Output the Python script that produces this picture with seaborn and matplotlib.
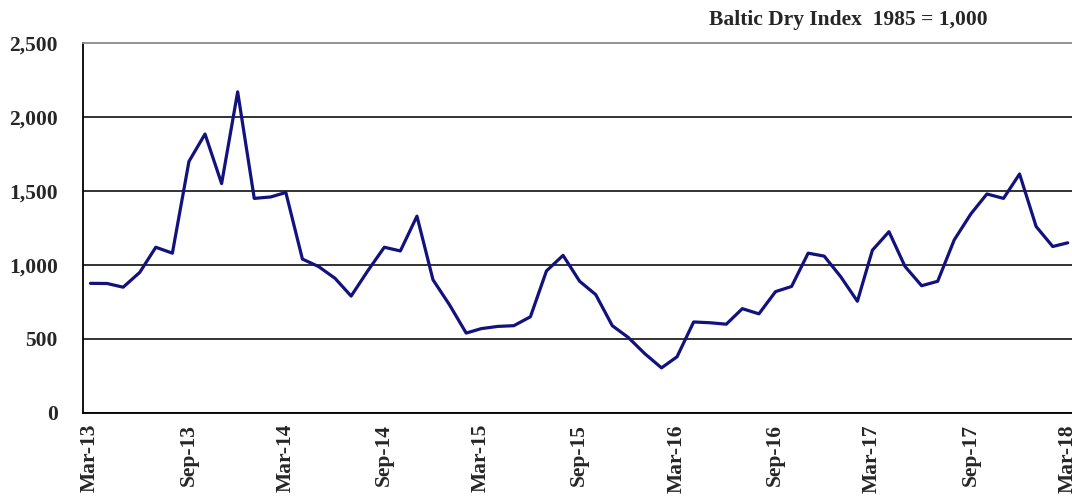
import pandas as pd
import matplotlib
matplotlib.use("Agg")
import matplotlib.pyplot as plt
import matplotlib.transforms as mtransforms
import seaborn as sns

# ==============================
# Data: Baltic Dry Index, monthly values (Mar-13 .. Mar-18)
# ==============================
START_MONTH = "2013-03-01"
bdi_values = [
    876, 875, 850, 950, 1120, 1080, 1700, 1885, 1550, 2170,   # Mar-13 .. Dec-13
    1450, 1460, 1490, 1040, 990, 910, 790, 960, 1120, 1095,   # Jan-14 .. Oct-14
    1330, 900, 730, 540, 570, 585, 590, 650, 960, 1065,       # Nov-14 .. Aug-15
    890, 800, 590, 510, 400, 305, 380, 615, 610, 600,         # Sep-15 .. Jun-16
    705, 670, 820, 855, 1080, 1060, 920, 755, 1100, 1225,     # Jul-16 .. Apr-17
    990, 860, 890, 1170, 1345, 1480, 1450, 1615, 1260, 1125,  # May-17 .. Feb-18
    1150,                                                     # Mar-18
]
tick_dates = ["2013-03-01", "2013-09-01", "2014-03-01", "2014-09-01",
              "2015-03-01", "2015-09-01", "2016-03-01", "2016-09-01",
              "2017-03-01", "2017-09-01", "2018-03-01"]
tick_labels = ["Mar-13", "Sep-13", "Mar-14", "Sep-14", "Mar-15", "Sep-15",
               "Mar-16", "Sep-16", "Mar-17", "Sep-17", "Mar-18"]
y_ticks = [0, 500, 1000, 1500, 2000, 2500]
y_tick_labels = ["0", "500", "1,000", "1,500", "2,000", "2,500"]
TITLE = "Baltic Dry Index  1985 = 1,000"

# monthly points plotted mid-month
df = pd.DataFrame({
    "date": pd.date_range(START_MONTH, periods=len(bdi_values), freq="MS") + pd.Timedelta(days=14),
    "bdi": bdi_values,
})

# ==============================
# Plot
# ==============================
sns.set_theme(style="white")
plt.rcParams["font.family"] = ["Liberation Serif", "DejaVu Serif"]
plt.rcParams["font.weight"] = "bold"

W, H = 1072, 497
fig = plt.figure(figsize=(W / 100, H / 100), dpi=100)
ax = fig.add_axes([83 / W, (H - 413) / H, 1 - 83 / W, 370 / H])

sns.lineplot(data=df, x="date", y="bdi", ax=ax, color="#12127e",
             linewidth=2.3, solid_joinstyle="round", solid_capstyle="round")

ax.set_ylim(0, 2500)
ax.set_xlim(pd.Timestamp("2013-03-01"), pd.Timestamp("2018-03-23"))

ax.set_yticks(y_ticks)
ax.set_yticklabels(y_tick_labels, fontsize=15.5, fontweight="bold")
ax.set_xticks(pd.to_datetime(tick_dates))
ax.set_xticklabels(tick_labels, rotation=90, fontsize=15.5, fontweight="bold",
                   va="top", ha="center")

ax.tick_params(axis="y", length=0, pad=18)
ax.tick_params(axis="x", direction="in", length=5, width=1.1, color="black", pad=8)

# shift x labels slightly right like the original
offset = mtransforms.ScaledTranslation(7 / 100, 0, fig.dpi_scale_trans)
for lab in ax.get_xticklabels():
    lab.set_transform(lab.get_transform() + offset)

ax.set_xlabel("")
ax.set_ylabel("")

# horizontal gridlines
ax.yaxis.grid(True, color="#222222", linewidth=1.3)
ax.xaxis.grid(False)
ax.set_axisbelow(True)
ax.get_ygridlines()[-1].set_visible(False)

for side in ["left", "bottom"]:
    ax.spines[side].set_color("black")
    ax.spines[side].set_linewidth(1.3)
ax.spines["right"].set_visible(False)
ax.spines["top"].set_color("#8a8a8a")
ax.spines["top"].set_linewidth(1.3)

fig.text(988 / W, (H - 20) / H, TITLE, ha="right", va="center",
         fontsize=15.5, fontweight="bold")

fig.savefig("out.png", dpi=100)
